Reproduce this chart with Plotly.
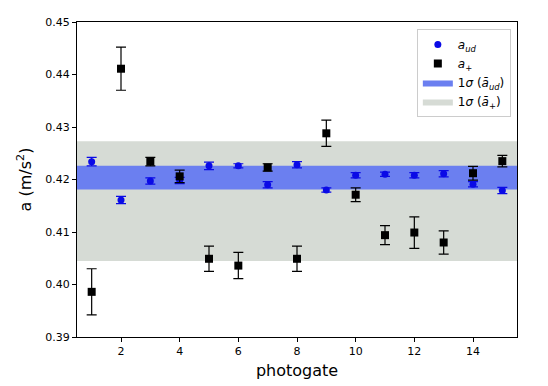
import plotly.graph_objects as go

photogate = list(range(1, 16))
a_ud = [0.4234, 0.4161, 0.4197, 0.4198, 0.4226, 0.4226, 0.4190, 0.4228,
        0.4180, 0.4208, 0.4210, 0.4208, 0.4211, 0.4191, 0.4179]
a_ud_err = [0.0008, 0.0007, 0.0006, 0.0006, 0.0007, 0.0004, 0.0006, 0.0006,
            0.0004, 0.0005, 0.0004, 0.0005, 0.0006, 0.0005, 0.0006]
a_plus = [0.3986, 0.4411, 0.4234, 0.4206, 0.4049, 0.4036, 0.4223, 0.4049,
          0.4288, 0.4171, 0.4094, 0.4099, 0.4080, 0.4212, 0.4235]
a_plus_err = [0.0044, 0.0041, 0.0008, 0.0012, 0.0024, 0.0025, 0.0007, 0.0024,
              0.0025, 0.0013, 0.0018, 0.0030, 0.0022, 0.0013, 0.0011]
band_ud = [0.4181, 0.4226]
band_plus = [0.4045, 0.4273]
x_range = [0.5, 15.5]
y_range = [0.39, 0.45]
y_ticks = [0.39, 0.40, 0.41, 0.42, 0.43, 0.44, 0.45]
x_ticks = [2, 4, 6, 8, 10, 12, 14]

fig = go.Figure()

def band(lo_hi, color, name, rank):
    return go.Scatter(
        x=[x_range[0], x_range[1], x_range[1], x_range[0], x_range[0]],
        y=[lo_hi[0], lo_hi[0], lo_hi[1], lo_hi[1], lo_hi[0]],
        fill="toself", fillcolor=color, mode="lines",
        line=dict(width=0, color=color), name=name, hoverinfo="skip",
        legendrank=rank,
    )

fig.add_trace(band(band_plus, "#d6dbd5", "1<i>σ</i> (<i>ā</i><sub>+</sub>)", 4))
fig.add_trace(band(band_ud, "#6b7ff0", "1<i>σ</i> (<i>ā</i><sub><i>ud</i></sub>)", 3))

fig.add_trace(go.Scatter(
    x=photogate, y=a_ud, mode="markers", name="<i>a</i><sub><i>ud</i></sub>",
    marker=dict(symbol="circle", size=7, color="#0a0ae6"),
    error_y=dict(type="data", array=a_ud_err, color="#0a0ae6",
                 thickness=1.2, width=5),
    legendrank=1,
))
fig.add_trace(go.Scatter(
    x=photogate, y=a_plus, mode="markers", name="<i>a</i><sub>+</sub>",
    marker=dict(symbol="square", size=8, color="black"),
    error_y=dict(type="data", array=a_plus_err, color="black",
                 thickness=1.2, width=5),
    legendrank=2,
))

# page body has an 8px margin, so the figure is offset by 8px
fig.update_layout(
    width=540, height=378,
    margin=dict(l=69, r=31, t=8, b=49),
    plot_bgcolor="white", paper_bgcolor="white",
    font=dict(family="DejaVu Sans", size=11, color="black"),
    showlegend=True,
    legend=dict(x=0.986, y=0.978, xanchor="right", yanchor="top",
                bgcolor="white", bordercolor="#cccccc", borderwidth=1,
                font=dict(size=12), tracegroupgap=0),
)
fig.update_xaxes(
    range=x_range, tickvals=x_ticks, showgrid=False, zeroline=False,
    showline=True, linecolor="black", linewidth=1.2, mirror=True,
    ticks="outside", ticklen=4, tickcolor="black",
    title=dict(text="photogate", font=dict(size=16), standoff=7),
)
fig.update_yaxes(
    range=y_range, tickvals=y_ticks, tickformat=".2f", showgrid=False,
    zeroline=False, showline=True, linecolor="black", linewidth=1.2,
    mirror=True, ticks="outside", ticklen=4, tickcolor="black",
    title=dict(text="a (m/s<sup>2</sup>)", font=dict(size=16), standoff=9),
)

fig.write_html("out.html")
